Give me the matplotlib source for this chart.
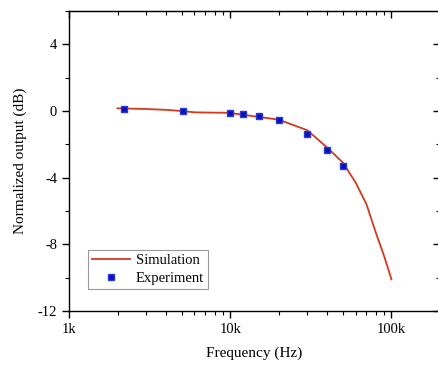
import matplotlib.pyplot as plt
from matplotlib.ticker import FixedLocator, FuncFormatter, MultipleLocator, LogLocator, NullFormatter

plt.rcParams['font.family'] = ['Liberation Serif', 'DejaVu Serif']
plt.rcParams['axes.unicode_minus'] = False

# Datos de simulacion (frecuencia en Hz, salida en dB)
sim_freq = [2e3, 3e3, 4e3, 5e3, 6e3, 7e3, 8e3, 9e3, 10e3, 20e3, 30e3, 40e3, 50e3, 60e3, 70e3, 80e3, 90e3, 100e3]
sim_db = [0.16, 0.12, 0.07, 0.0, -0.08, -0.09, -0.1, -0.1, -0.12, -0.52, -1.15, -2.2, -3.1, -4.3, -5.6, -7.3, -8.7, -10.1]

# Datos experimentales
exp_freq = [2.2e3, 5.1e3, 10e3, 12e3, 15e3, 20e3, 30e3, 40e3, 50e3]
exp_db = [0.1, 0.0, -0.14, -0.2, -0.32, -0.54, -1.38, -2.34, -3.28]

x_ticks = [1e3, 1e4, 1e5]
x_tick_labels = ['1k', '10k', '100k']

fig = plt.figure(figsize=(4.39, 3.67), dpi=100)
ax = fig.add_axes([69 / 439, 1 - 311 / 367, 371 / 439, 300 / 367])

ax.plot(sim_freq, sim_db, color='#d4391e', linewidth=1.3, label='Simulation')
ax.plot(exp_freq, exp_db, linestyle='none', marker='s', markersize=5,
        color='#0a10b8', markeredgecolor='#2a3ad8', label='Experiment')

ax.set_xscale('log')
ax.set_xlim(1e3, 2e5)
ax.set_ylim(-12, 6)

ax.xaxis.set_major_locator(FixedLocator(x_ticks))
ax.xaxis.set_major_formatter(FuncFormatter(lambda v, p: x_tick_labels[x_ticks.index(v)] if v in x_ticks else ''))
ax.xaxis.set_minor_locator(LogLocator(base=10, subs=range(2, 10)))
ax.xaxis.set_minor_formatter(NullFormatter())
ax.yaxis.set_major_locator(MultipleLocator(4))
ax.yaxis.set_minor_locator(MultipleLocator(2))

ax.tick_params(which='major', direction='out', length=5, width=1, labelsize=10.5)
ax.tick_params(which='minor', direction='out', length=3, width=0.8)
for s in ax.spines.values():
    s.set_linewidth(1)

# Ejes secundarios para las marcas interiores arriba y a la derecha
top = ax.secondary_xaxis('top')
top.xaxis.set_major_locator(FixedLocator(x_ticks))
top.xaxis.set_minor_locator(LogLocator(base=10, subs=range(2, 10)))
top.xaxis.set_major_formatter(NullFormatter())
top.xaxis.set_minor_formatter(NullFormatter())
top.tick_params(which='major', direction='in', length=5, width=1)
top.tick_params(which='minor', direction='in', length=3, width=0.8)

right = ax.secondary_yaxis('right')
right.yaxis.set_major_locator(MultipleLocator(4))
right.yaxis.set_minor_locator(MultipleLocator(2))
right.yaxis.set_major_formatter(NullFormatter())
right.tick_params(which='major', direction='in', length=5, width=1)
right.tick_params(which='minor', direction='in', length=3, width=0.8)

ax.set_xlabel('Frequency (Hz)', fontsize=11, labelpad=8)
ax.set_ylabel('Normalized output (dB)', fontsize=11, labelpad=8)

leg = ax.legend(loc='lower left', bbox_to_anchor=(0.05, 0.073), fontsize=10.5, fancybox=False,
                edgecolor='#999999', framealpha=1, handlelength=2.6, borderpad=0.3,
                labelspacing=0.3, handletextpad=0.4, borderaxespad=0)
leg.get_frame().set_linewidth(0.8)

plt.savefig('out.png', dpi=100)
